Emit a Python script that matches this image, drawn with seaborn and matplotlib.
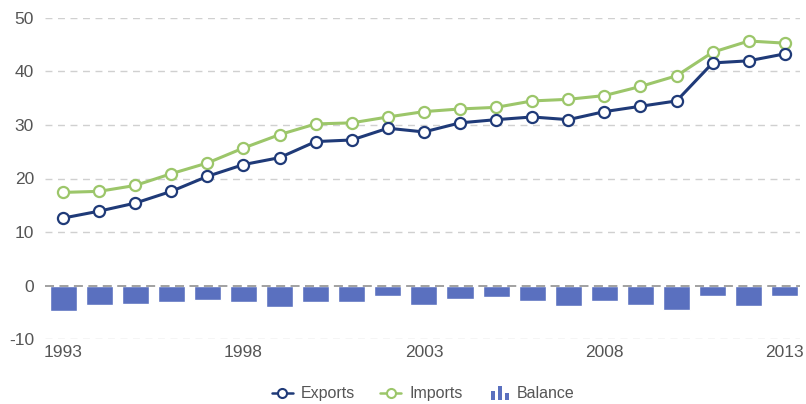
import matplotlib
matplotlib.use('Agg')
import matplotlib.pyplot as plt
import seaborn as sns
from matplotlib.lines import Line2D
from matplotlib.patches import Rectangle
from matplotlib.legend_handler import HandlerBase

# data
years = list(range(1993, 2014))
exports = [12.6, 13.9, 15.4, 17.6, 20.4, 22.6, 23.9, 26.9, 27.2, 29.4, 28.7,
           30.4, 31.0, 31.5, 31.0, 32.5, 33.5, 34.5, 41.6, 42.0, 43.3]
imports = [17.4, 17.6, 18.7, 20.9, 22.9, 25.7, 28.2, 30.2, 30.4, 31.5, 32.5,
           33.0, 33.3, 34.5, 34.8, 35.5, 37.2, 39.2, 43.6, 45.7, 45.3]
balance = [-4.8, -3.6, -3.4, -3.1, -2.7, -3.1, -4.1, -3.1, -3.1, -2.0, -3.7,
           -2.6, -2.1, -2.9, -3.9, -2.9, -3.6, -4.6, -1.9, -3.9, -1.9]
xtick_years = [1993, 1998, 2003, 2008, 2013]

navy = '#1f3a78'
green = '#9cc66a'
bar_blue = '#5a70bf'
text_gray = '#555555'

sns.set_style('white')
plt.rcParams['font.family'] = ['Liberation Sans', 'DejaVu Sans']
plt.rcParams['axes.unicode_minus'] = False

fig = plt.figure(figsize=(8.06, 4.04), dpi=100)
ax = fig.add_axes([45 / 806, 1 - 339 / 404, 755 / 806, 321 / 404])

# grid lines
for v in [-10, 10, 20, 30, 40, 50]:
    ax.axhline(v, color='#d0d0d0', lw=1, dashes=(5, 4), zorder=0)
ax.axhline(0, color='#9a9a9a', lw=1.3, dashes=(5, 3), zorder=3)

sns.barplot(x=years, y=balance, native_scale=True, width=0.75,
            color=bar_blue, saturation=1, ax=ax, zorder=2)
sns.lineplot(x=years, y=imports, color=green, lw=2.2, marker='o', ms=8,
             markerfacecolor='white', markeredgecolor=green, markeredgewidth=1.6,
             ax=ax, zorder=4)
sns.lineplot(x=years, y=exports, color=navy, lw=2.2, marker='o', ms=8,
             markerfacecolor='white', markeredgecolor=navy, markeredgewidth=1.6,
             ax=ax, zorder=5)

ax.set_xlim(1992.5, 2013.42)
ax.set_ylim(-10, 50)
ax.set_yticks([-10, 0, 10, 20, 30, 40, 50])
ax.set_xticks(xtick_years)
ax.set_xticklabels([str(y) for y in xtick_years])
ax.tick_params(axis='both', length=0, labelsize=12.5, labelcolor=text_gray)
ax.tick_params(axis='y', pad=8)
ax.tick_params(axis='x', pad=4)
ax.set_xlabel('')
ax.set_ylabel('')
for s in ax.spines.values():
    s.set_visible(False)


class BarIcon(HandlerBase):
    def create_artists(self, legend, orig_handle, xd, yd, width, height, fontsize, trans):
        bw = width / 5.0
        hs = [0.7, 1.15, 0.5]
        arts = []
        for i, h in enumerate(hs):
            r = Rectangle((width * 0.15 + i * bw * 1.7, -1.5), bw, height * h + 1.5,
                          color=bar_blue, lw=0, transform=trans)
            arts.append(r)
        return arts


handles = [
    Line2D([0], [0], color=navy, lw=1.8, marker='o', ms=6.5, markerfacecolor='white',
           markeredgewidth=1.5),
    Line2D([0], [0], color=green, lw=1.8, marker='o', ms=6.5, markerfacecolor='white',
           markeredgewidth=1.5),
    Rectangle((0, 0), 1, 1, color=bar_blue),
]
fig.legend(handles, ['Exports', 'Imports', 'Balance'], loc='center',
           bbox_to_anchor=(0.525, 0.025), ncol=3, frameon=False, fontsize=11.5,
           labelcolor=text_gray, handlelength=1.3, handletextpad=0.5, columnspacing=1.6,
           handler_map={Rectangle: BarIcon()})

fig.savefig('out.png', dpi=100)
